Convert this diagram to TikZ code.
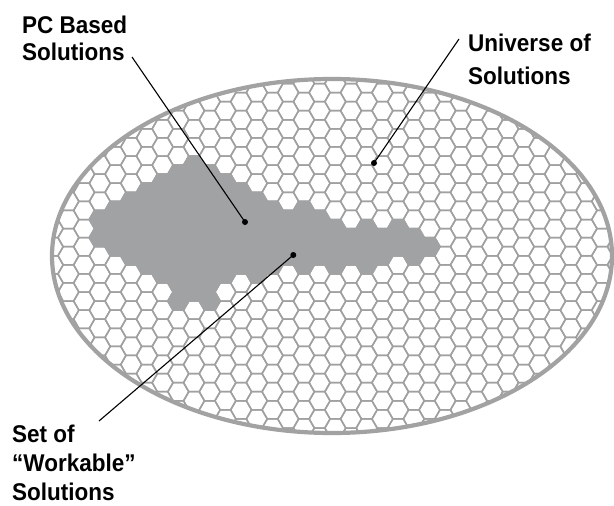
\documentclass[tikz,border=0pt]{standalone}
\usepackage{fontspec}
\setmainfont{Liberation Sans}
\newfontfamily\lblfont{Liberation Sans}[FakeStretch=0.93,Ligatures=TeX]
\definecolor{hexline}{RGB}{160,160,160}
\definecolor{hexgray}{RGB}{161,162,164}
\definecolor{rimgray}{RGB}{162,162,162}
\tikzset{
  hexgrid/.style={draw=hexline, line width=1.5pt},
  hexsolid/.style={fill=hexgray, draw=hexgray, line width=1.5pt},
  rim/.style={draw=rimgray, line width=4.2pt},
  lbl/.style={font=\lblfont\bfseries\fontsize{24.2}{30}\selectfont, inner sep=0pt, anchor=base west},
  leader/.style={draw=black, line width=1.1pt},
  dotmark/.style={circle, fill=black, inner sep=0pt, minimum size=6pt}
}
\newcommand{\hexat}[3]{\path[#1] (#2,#3) +(0:10.47pt) -- +(60:10.47pt) -- +(120:10.47pt) -- +(180:10.47pt) -- +(240:10.47pt) -- +(300:10.47pt) -- cycle;}
\begin{document}
\begin{tikzpicture}[x=1pt,y=-1pt]
\useasboundingbox (0,0) rectangle (614,506);
\fill[white] (0,0) rectangle (614,506);
\begin{scope}
  \clip (332,256) ellipse [x radius=280pt, y radius=177pt];
  \foreach \i in {-25,...,13} {
    \pgfmathsetmacro\cx{429.5+15.7*\i}
    \pgfmathsetmacro\yo{mod(abs(\i),2)*9.065}
    \foreach \k in {-12,...,12} {
      \pgfmathsetmacro\cy{246.7+\yo+18.13*\k}
      \hexat{hexgrid}{\cx}{\cy}
    }
  }
  \foreach \i/\ka/\kb in {-21/-2/-1, -20/-2/0, -19/-3/0, -18/-3/1, -17/-4/1,
      -16/-4/3, -15/-5/2, -14/-4/3, -13/-4/1, -12/-3/1, -11/-3/1, -10/-2/1,
      -9/-2/0, -8/-2/1, -7/-2/0, -6/-1/1, -5/-1/0, -4/-1/1, -3/-1/0,
      -2/-1/0, -1/-1/0, 0/0/0} {
    \pgfmathsetmacro\cx{429.5+15.7*\i}
    \pgfmathsetmacro\yo{mod(abs(\i),2)*9.065}
    \foreach \k in {\ka,...,\kb} {
      \pgfmathsetmacro\cy{246.7+\yo+18.13*\k}
      \hexat{hexsolid}{\cx}{\cy}
    }
  }
\end{scope}
\draw[rim] (332,256) ellipse [x radius=280pt, y radius=177pt];

\node[lbl] (pc) at (22,33) {\vtop{\baselineskip=28pt\hbox{PC Based}\hbox{Solutions}}};
\node[lbl] (uni) at (468,51) {\vtop{\baselineskip=33pt\hbox{Universe of}\hbox{Solutions}}};
\node[lbl] (set) at (12,442) {\vtop{\baselineskip=29pt\hbox{Set of}\hbox{“Workable”}\hbox{Solutions}}};

\node[dotmark] (pcdot) at (245,222) {};
\node[dotmark] (unidot) at (374,163) {};
\node[dotmark] (setdot) at (293.3,255) {};
\coordinate (pcend) at (132,57);
\coordinate (uniend) at (459,39);
\coordinate (setend) at (99,421);
\draw[leader] (pcend) -- (pcdot.center);
\draw[leader] (uniend) -- (unidot.center);
\draw[leader] (setend) -- (setdot.center);
\end{tikzpicture}
\end{document}
